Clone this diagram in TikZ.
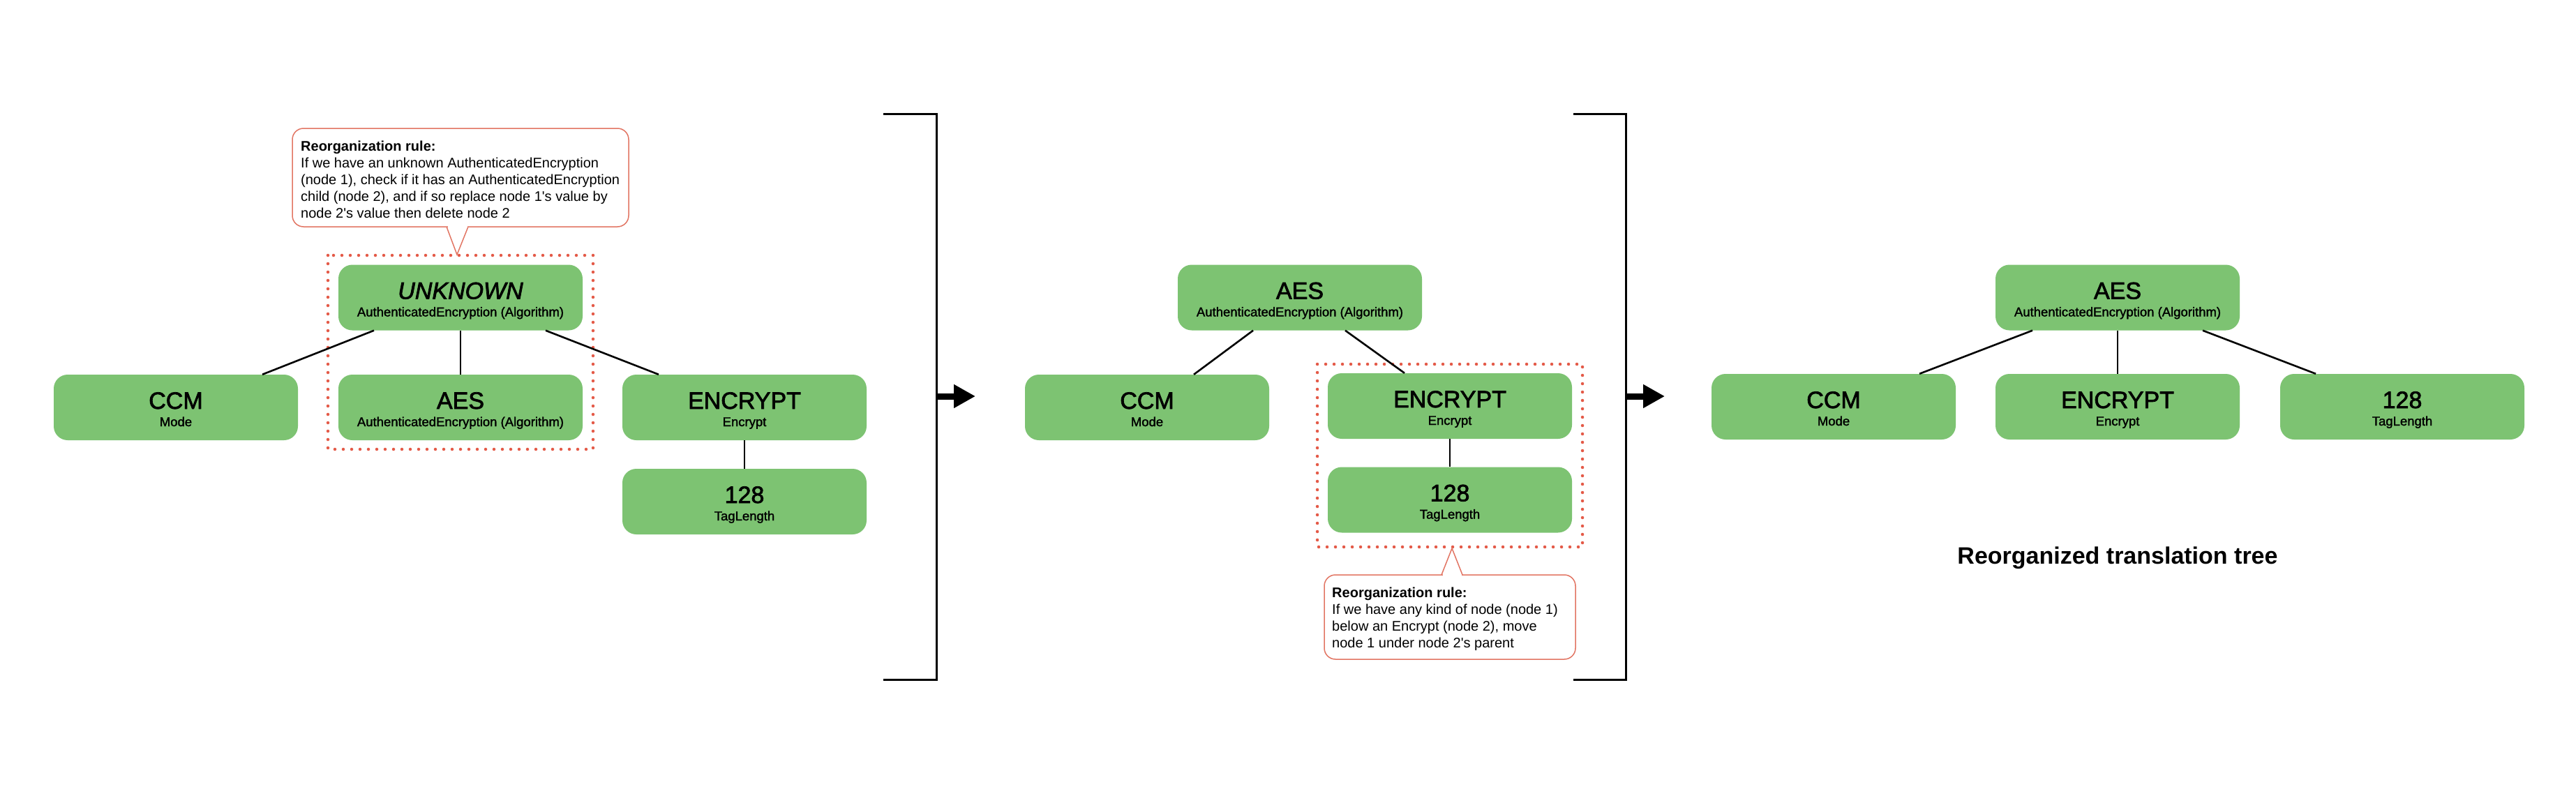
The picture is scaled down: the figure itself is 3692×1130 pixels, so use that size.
\documentclass[tikz,border=0pt]{standalone}
\usepackage{fontspec}
\setmainfont{Liberation Sans}
\newfontfamily\medfont[FakeBold=2.2]{Liberation Sans}
\newfontfamily\subfont[FakeBold=1.6]{Liberation Sans}
\usetikzlibrary{arrows.meta}
\definecolor{boxgreen}{HTML}{7DC372}
\definecolor{dotred}{HTML}{E45A48}
\definecolor{callred}{HTML}{E27563}
\tikzset{
  tbox/.style={fill=boxgreen, rounded corners=20pt, minimum width=350pt, minimum height=94pt, inner sep=0pt},
  mainlbl/.style={anchor=base, inner sep=0pt, font=\medfont\fontsize{34}{34}\selectfont},
  sublbl/.style={anchor=base, inner sep=0pt, font=\subfont\fontsize{18.5}{18.5}\selectfont},
  edge/.style={line width=2.6pt},
  bracket/.style={line width=3pt},
  flowarrow/.style={line width=9pt, -{Triangle[length=31pt, width=32pt]}},
  dotframe/.style={draw=dotred, line width=4.5pt, line cap=round, dash pattern=on 0pt off 12pt},
  callout/.style={draw=callred, line width=1.5pt, fill=white},
  pointer/.style={draw=callred, line width=1.5pt, line join=miter},
  calltext/.style={anchor=north west, inner sep=0pt, align=left, font=\fontsize{20}{24}\selectfont},
  titletext/.style={anchor=base, inner sep=0pt, font=\bfseries\fontsize{34}{34}\selectfont},
}
\newcommand\treenode[5]{%
  \node[tbox] (#1) at (#2,#3) {};
  \node[mainlbl] (#1-m) at ([yshift=-2pt]#1.center) {#4};
  \node[sublbl] (#1-s) at ([yshift=-27pt]#1.center) {#5};
}
\begin{document}
\begin{tikzpicture}[x=1pt,y=-1pt]
\fill[white] (0,0) rectangle (3692,1130);
\useasboundingbox (0,0) rectangle (3692,1130);

% ---------- left tree ----------
\draw[dotframe] (470,366) rectangle (850,644);
\treenode{unk}{660}{426.5}{\itshape UNKNOWN}{AuthenticatedEncryption (Algorithm)}
\treenode{ccmA}{252}{584}{CCM}{Mode}
\treenode{aesA}{660}{584}{AES}{AuthenticatedEncryption (Algorithm)}
\treenode{encA}{1067}{584}{ENCRYPT}{Encrypt}
\treenode{tagA}{1067}{719}{128}{TagLength}
\draw[edge] ([xshift=-124pt]unk.south) -- ([xshift=124pt]ccmA.north);
\draw[edge] (unk.south) -- (aesA.north);
\draw[edge] ([xshift=122pt]unk.south) -- ([xshift=-123pt]encA.north);
\draw[edge] (encA.south) -- (tagA.north);

% left callout
\draw[callout, rounded corners=16pt] (419,184) rectangle (901,325);
\fill[white] (641.5,321) rectangle (669.5,329);
\coordinate (tipA) at (655,365);
\draw[pointer] (640,325) -- (tipA) -- (671,325);
\node[calltext] (ruleA) at (431,201.5) {\textbf{Reorganization rule:}\\
If we have an unknown AuthenticatedEncryption\\
(node 1), check if it has an AuthenticatedEncryption\\
child (node 2), and if so replace node 1\textquotesingle s value by\\
node 2\textquotesingle s value then delete node 2};

% bracket 1 + arrow
\draw[bracket] (1266,163) -- (1342,163) -- (1342,974) -- (1266,974);
\coordinate (a1s) at (1342,568);
\coordinate (a1t) at (1398,568);
\draw[flowarrow] (a1s) -- (a1t);

% ---------- middle tree ----------
\draw[dotframe] (1888,522) rectangle (2268,784);
\treenode{aesB}{1863}{426.5}{AES}{AuthenticatedEncryption (Algorithm)}
\treenode{ccmB}{1644}{584}{CCM}{Mode}
\treenode{encB}{2078}{582}{ENCRYPT}{Encrypt}
\treenode{tagB}{2078}{716.5}{128}{TagLength}
\draw[edge] ([xshift=-67pt]aesB.south) -- ([xshift=67pt]ccmB.north);
\draw[edge] ([xshift=65pt]aesB.south) -- ([xshift=-65pt]encB.north);
\draw[edge] (encB.south) -- (tagB.north);

% middle callout
\draw[callout, rounded corners=16pt] (1898,824) rectangle (2258,945);
\fill[white] (2067.5,820) rectangle (2094.5,828);
\coordinate (tipB) at (2081,786);
\draw[pointer] (2066,824) -- (tipB) -- (2096,824);
\node[calltext] (ruleB) at (1909,841.5) {\textbf{Reorganization rule:}\\
If we have any kind of node (node 1)\\
below an Encrypt (node 2), move\\
node 1 under node 2\textquotesingle s parent};

% bracket 2 + arrow
\draw[bracket] (2255,163) -- (2330,163) -- (2330,974) -- (2255,974);
\coordinate (a2s) at (2330,568);
\coordinate (a2t) at (2386,568);
\draw[flowarrow] (a2s) -- (a2t);

% ---------- right tree ----------
\treenode{aesC}{3035}{426.5}{AES}{AuthenticatedEncryption (Algorithm)}
\treenode{ccmC}{2628}{583}{CCM}{Mode}
\treenode{encC}{3035}{583}{ENCRYPT}{Encrypt}
\treenode{tagC}{3443}{583}{128}{TagLength}
\draw[edge] ([xshift=-122pt]aesC.south) -- ([xshift=123pt]ccmC.north);
\draw[edge] (aesC.south) -- (encC.north);
\draw[edge] ([xshift=122pt]aesC.south) -- ([xshift=-124pt]tagC.north);

\node[titletext] (title) at (3035,808) {Reorganized translation tree};
\end{tikzpicture}
\end{document}
